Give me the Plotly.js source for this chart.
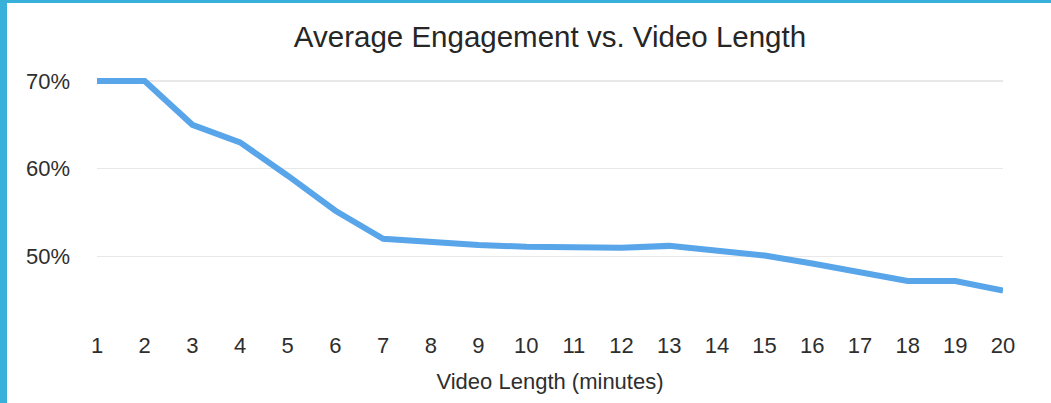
<!DOCTYPE html>
<html>
<head>
<meta charset="utf-8">
<script src="https://cdn.plot.ly/plotly-3.0.1.min.js"></script>
<style>
  html, body { margin: 0; padding: 0; background: #ffffff; overflow: hidden; }
  #wrap { position: relative; width: 1051px; height: 403px; }
  #chart { position: absolute; left: 0; top: 0; width: 1051px; height: 403px; }
  #bl { position: absolute; left: 0; top: 0; width: 7px; height: 403px; background: #37b1da; }
  #bt { position: absolute; left: 0; top: 0; width: 1051px; height: 3px; background: #37b1da; }
</style>
</head>
<body>
<div id="wrap">
  <div id="chart"></div>
  <div id="bl"></div>
  <div id="bt"></div>
</div>
<script>
const videoLength = [1, 2, 3, 4, 5, 6, 7, 8, 9, 10, 11, 12, 13, 14, 15, 16, 17, 18, 19, 20];
const engagement = [70, 70, 65, 63, 59.2, 55.2, 52, 51.6, 51.3, 51.1, 51, 51, 51.2, 50.6, 50.1, 49.2, 48.2, 47.2, 47.2, 46.1];
const yTicks = [50, 60, 70];
const yTickLabels = ["50%", "60%", "70%"];
const chartTitle = "Average Engagement vs. Video Length";
const xTitle = "Video Length (minutes)";

const FONT = "Liberation Sans, Arial, Helvetica, sans-serif";

Plotly.newPlot("chart", [{
  x: videoLength,
  y: engagement,
  type: "scatter",
  mode: "lines",
  line: { color: "#58a5ea", width: 6 },
  hoverinfo: "skip"
}], {
  width: 1051,
  height: 403,
  paper_bgcolor: "#ffffff",
  plot_bgcolor: "#ffffff",
  margin: { l: 97, r: 48, t: 60, b: 73 },
  showlegend: false,
  font: { family: FONT, color: "#2e2e2e" },
  title: {
    text: chartTitle,
    font: { family: FONT, size: 29.5, color: "#262626" },
    xref: "paper", x: 0.5, xanchor: "center",
    yref: "container", y: 0.91, yanchor: "middle"
  },
  xaxis: {
    range: [1, 20],
    tickvals: videoLength,
    ticks: "",
    showgrid: false,
    zeroline: false,
    showline: false,
    tickfont: { family: FONT, size: 22, color: "#2e2e2e" },
    title: { text: xTitle, font: { family: FONT, size: 22, color: "#2e2e2e" }, standoff: 16 }
  },
  yaxis: {
    range: [41.61, 72.39],
    tickmode: "array",
    tickvals: yTicks,
    ticktext: yTickLabels,
    ticks: "",
    showgrid: true,
    gridcolor: "#e8e8e8",
    gridwidth: 1.5,
    zeroline: false,
    showline: false,
    ticklabelstandoff: 26,
    tickfont: { family: FONT, size: 22, color: "#2e2e2e" }
  }
}, { displayModeBar: false, staticPlot: true });
</script>
</body>
</html>
